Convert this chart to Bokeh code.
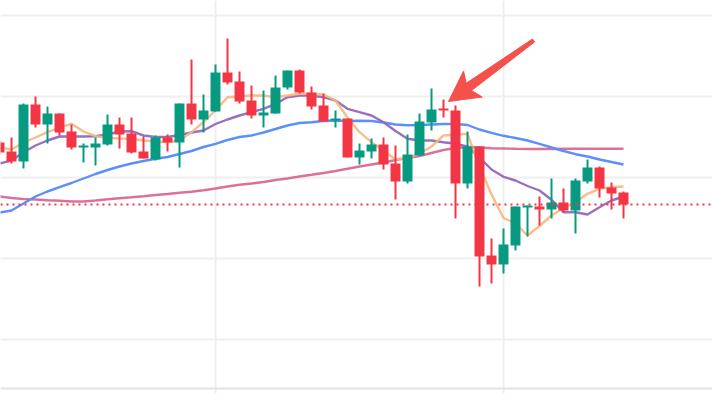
import numpy as np
from bokeh.plotting import figure
from bokeh.models import Span, Range1d
from bokeh.embed import file_html
from bokeh.resources import INLINE

# ---- data (index of candle, prices in chart units) ----
idx = list(range(-1, 52))
opens = [258, 249, 239, 296, 276, 287, 269, 253, 253, 256, 276, 267, 249, 241, 263, 258, 297, 281, 289, 328,
         319, 300, 285, 287, 313, 330, 308, 295, 280, 282, 243, 249, 256, 237, 219, 245, 278, 292, 290, 217,
         254, 145, 136, 155, 193, 194, 191, 198, 190, 219, 233, 213, 208]
closes = [248, 239, 296, 276, 287, 268, 253, 255, 257, 276, 266, 248, 242, 263, 258, 297, 281, 290, 328, 318,
          299, 285, 288, 313, 330, 308, 294, 279, 282, 243, 250, 256, 236, 219, 246, 279, 291, 290, 217, 254,
          144, 136, 156, 194, 195, 191, 198, 190, 220, 233, 212, 207, 196]
highs = [260, 263, 297, 304, 294, 287, 276, 257, 263, 286, 283, 283, 264, 265, 266, 297, 341, 306, 336, 362,
         329, 315, 310, 325, 330, 331, 314, 307, 290, 282, 257, 262, 263, 255, 266, 287, 312, 301, 295, 269,
         254, 162, 172, 194, 195, 204, 222, 212, 222, 241, 234, 218, 209]
lows = [246, 237, 232, 273, 257, 265, 251, 238, 235, 255, 252, 247, 242, 240, 249, 233, 276, 268, 289, 316,
        297, 282, 273, 287, 311, 307, 291, 279, 273, 243, 236, 242, 231, 201, 217, 245, 270, 283, 182, 212,
        114, 117, 127, 150, 164, 175, 182, 188, 167, 217, 203, 191, 182]

ma_orange = [253, 251, 258, 263, 268.3, 273, 276.7, 269, 264.3, 262.7, 262, 261.7, 260, 259, 258.3, 260,
             268.3, 278.3, 290, 303.3, 304, 305, 305, 303.3, 305, 306.7, 306.7, 306, 300, 283, 268.3, 258.3,
             250, 241, 242.7, 246.7, 254, 265, 265.7, 266.7, 234, 206, 182.5, 177, 165, 174.5, 185, 192.5,
             198.3, 206.7, 211.7, 213.3, 214]
ma_purple = [237, 240, 248.3, 255, 260, 264, 264, 264, 264.3, 266, 269, 269.3, 265, 263.5, 263.5, 265.5,
             268, 270, 276.5, 281, 285, 288.3, 291.7, 296.7, 303.3, 305, 305, 303.3, 300, 291.7, 288.3, 285,
             278.3, 269.5, 261.7, 260, 260, 258.3, 256.7, 254, 243, 231, 223.7, 220, 214.5, 210, 200.7,
             188.3, 188.3, 186, 193.3, 200, 204]
ma_blue = [188, 190, 197, 204, 209, 213.3, 217.5, 222, 226.5, 230.5, 234, 237, 239.5, 241.7, 243.5, 246.5,
           249.5, 253.5, 256.7, 260.5, 263.5, 265, 268, 271.5, 275, 277.5, 278.3, 279.5, 280, 279.5, 279.7,
           279.5, 278, 276, 275.3, 275.5, 276, 276.5, 276.5, 275.5, 271, 267.7, 264.7, 262.5, 260, 256.7,
           253, 249.5, 246.3, 244, 241, 238.5, 236]
ma_pink = [204, 202.5, 201.5, 201, 200.3, 199.7, 199, 199, 200, 201.3, 202.3, 203.2, 204.2, 205.5, 206.5,
           207.7, 208.7, 210.3, 212, 214, 215.7, 217, 218.5, 220.5, 222, 224, 225.7, 227.5, 229.5, 231.7,
           234, 236, 238, 240.5, 242.5, 244.5, 247.5, 250.5, 252.5, 253.5, 253, 252.3, 252, 251.7, 251.5,
           251.5, 251.5, 251.7, 251.7, 251.7, 251.7, 251.7, 251.7]

h_grid = [61, 142, 223, 304, 385]
v_grid = [17, 41]
ref_price = 196
bottom_border = 12
arrow_tail = (43.5, 360)
arrow_tip = (36.42, 299)

# ---- styles ----
GREEN = "#089981"
RED = "#f23645"
W, H = 712, 394
XR = (-11 / 12, 701 / 12)
YR = (6, 400)

p = figure(width=W, height=H, x_range=Range1d(*XR), y_range=Range1d(*YR),
           x_axis_type=None, y_axis_type=None, toolbar_location=None,
           output_backend="svg", min_border=0,
           background_fill_color="white", border_fill_color="white")
p.outline_line_color = None

for g in h_grid:
    p.add_layout(Span(location=g, dimension="width", line_color="#efefef", line_width=2, level="underlay"))
for g in v_grid:
    p.add_layout(Span(location=g, dimension="height", line_color="#efefef", line_width=2, level="underlay"))
p.add_layout(Span(location=bottom_border, dimension="width", line_color="#e0e3eb", line_width=2, level="underlay"))

# moving averages
p.line(idx, ma_pink, line_color="#d9608f", line_width=2.4, line_alpha=0.9)
p.line(idx, ma_blue, line_color="#5b8ff9", line_width=2.4, line_alpha=1.0)
p.line(idx, ma_purple, line_color="#9467bd", line_width=2.4, line_alpha=0.95)
p.line(idx, ma_orange, line_color="#f6b77c", line_width=2.4, line_alpha=0.9)

# candles
o = np.array(opens, float); c = np.array(closes, float)
colors = [GREEN if cc >= oo else RED for oo, cc in zip(o, c)]
bot = np.minimum(o, c)
top = np.maximum(np.maximum(o, c), bot + 2)
p.segment(x0=idx, y0=lows, x1=idx, y1=highs, line_color=colors, line_width=2)
p.vbar(x=idx, width=0.83, bottom=bot, top=top, fill_color=colors, line_color=None)

# reference dotted line
p.add_layout(Span(location=ref_price, dimension="width", line_color=RED, line_width=2,
                  line_dash="2 4", level="overlay"))

# arrow annotation (shape built in pixel space)
sx = W / (XR[1] - XR[0]); sy = H / (YR[1] - YR[0])
dx = (arrow_tail[0] - arrow_tip[0]) * sx
dy = (arrow_tail[1] - arrow_tip[1]) * sy
L = np.hypot(dx, dy)
u = np.array([dx, dy]) / L
n = np.array([-u[1], u[0]])
shape = [(0, 0), (30, 16), (25, 4.5), (L, 1.8), (L, -1.8), (25, -4.5), (30, -16)]
ax, ay = [], []
for a, b in shape:
    pt = a * u + b * n
    ax.append(arrow_tip[0] + pt[0] / sx)
    ay.append(arrow_tip[1] + pt[1] / sy)
p.patch(ax, ay, fill_color="#f5514b", line_color="#f5514b", line_width=1)

open("out.html", "w").write(file_html(p, INLINE))
